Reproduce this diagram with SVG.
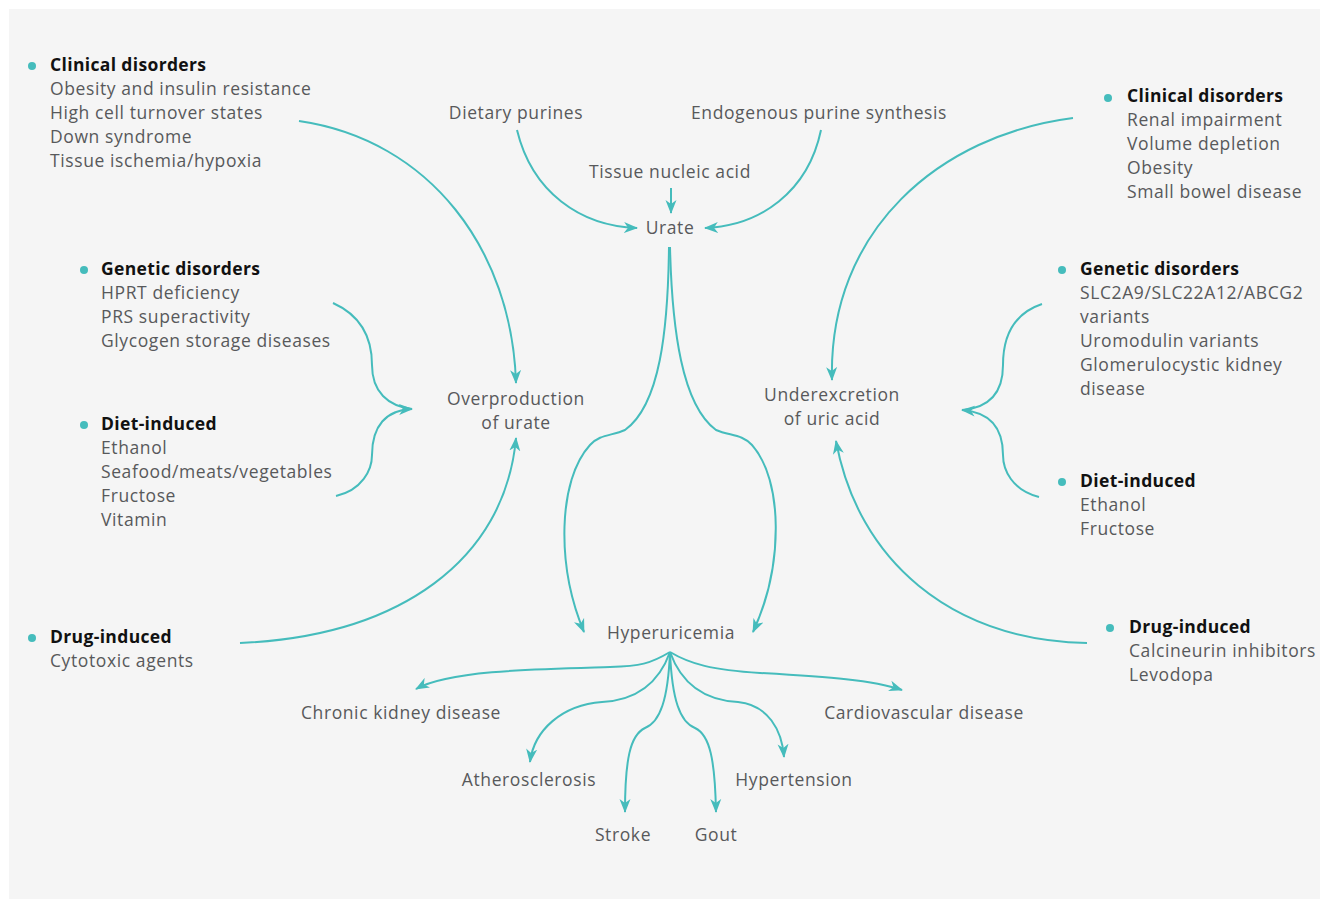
<svg xmlns="http://www.w3.org/2000/svg" width="1320" height="899" viewBox="0 0 1320 899">
  <style>
    .t { font-family: "Open Sans", Lato, "Liberation Sans", sans-serif; font-size: 17.5px; letter-spacing: 0.6px; fill: #58595b; }
    .h { font-family: "Open Sans", Lato, "Liberation Sans", sans-serif; font-size: 17.5px; letter-spacing: 0.35px; font-weight: bold; fill: #111111; }
    .m { text-anchor: middle; }
    .dot { fill: #45bcbc; }
    .c { fill: none; stroke: #45bcbc; stroke-width: 2; marker-end: url(#arr); }
    .n { fill: none; stroke: #45bcbc; stroke-width: 2; }
  </style>
  <defs>
    <marker id="arr" markerUnits="userSpaceOnUse" markerWidth="14" markerHeight="12" viewBox="0 0 14 12" refX="13" refY="6" orient="auto">
      <path d="M0,0.5 L14,6 L0,11.5 L4,6 z" fill="#45bcbc"/>
    </marker>
  </defs>

  <rect x="9" y="9" width="1311" height="890" fill="#f5f5f5"/>

  <!-- connectors -->
  <g id="connectors">
    <path class="c" d="M299,121 C430,140 512,250 516,383"/>
    <path class="n" d="M333,303 C362,316 372,340 372,365 C372,392 388,406 412,409"/>
    <path class="c" d="M336,496 C362,490 372,470 372,455 C372,426 386,410 412,409"/>
    <path class="c" d="M240,643 C400,636 505,560 516,438"/>

    <path class="c" d="M517,130 C532,192 580,226 637,228"/>
    <path class="c" d="M821,130 C808,192 760,226 705,228"/>
    <path class="c" d="M671,188 L671,213"/>

    <path class="c" d="M669,247 C668,330 660,405 625,430 C612,436 600,434 590,445 C558,480 556,565 584,632"/>
    <path class="c" d="M670,247 C672,330 682,405 716,430 C730,436 742,434 752,445 C783,480 784,565 753,632"/>

    <path class="c" d="M1073,118 C940,135 828,230 832,380"/>
    <path class="n" d="M1042,304 C1012,314 1003,338 1003,365 C1003,394 988,408 962,410"/>
    <path class="c" d="M1039,497 C1012,490 1003,470 1003,455 C1003,426 988,412 962,410"/>
    <path class="c" d="M1087,643 C950,640 858,560 836,441"/>

    <path class="c" d="M670,652 C650,664 640,666 610,667 C540,669 450,670 416,689"/>
    <path class="c" d="M670,652 C690,664 712,670 760,673 C830,677 872,680 902,690"/>
    <path class="c" d="M670,652 C660,680 640,700 602,702 C562,705 534,730 530,762"/>
    <path class="c" d="M670,652 C680,680 700,700 738,702 C768,705 782,730 784,757"/>
    <path class="c" d="M670,652 C668,700 660,722 645,728 C630,735 625,760 625,812"/>
    <path class="c" d="M670,652 C672,700 680,722 695,728 C710,735 715,760 716,812"/>
  </g>

  <!-- left column -->
  <g id="left-clinical">
    <circle class="dot" cx="32" cy="66" r="4"/>
    <text class="h" x="50" y="71">Clinical disorders</text>
    <text class="t" x="50" y="95">Obesity and insulin resistance</text>
    <text class="t" x="50" y="119">High cell turnover states</text>
    <text class="t" x="50" y="143">Down syndrome</text>
    <text class="t" x="50" y="167">Tissue ischemia/hypoxia</text>
  </g>
  <g id="left-genetic">
    <circle class="dot" cx="84" cy="270" r="4"/>
    <text class="h" x="101" y="275">Genetic disorders</text>
    <text class="t" x="101" y="299">HPRT deficiency</text>
    <text class="t" x="101" y="323">PRS superactivity</text>
    <text class="t" x="101" y="347">Glycogen storage diseases</text>
  </g>
  <g id="left-diet">
    <circle class="dot" cx="84" cy="425" r="4"/>
    <text class="h" x="101" y="430">Diet-induced</text>
    <text class="t" x="101" y="454">Ethanol</text>
    <text class="t" x="101" y="478">Seafood/meats/vegetables</text>
    <text class="t" x="101" y="502">Fructose</text>
    <text class="t" x="101" y="526">Vitamin</text>
  </g>
  <g id="left-drug">
    <circle class="dot" cx="32" cy="638" r="4"/>
    <text class="h" x="50" y="643">Drug-induced</text>
    <text class="t" x="50" y="667">Cytotoxic agents</text>
  </g>

  <!-- centre -->
  <g id="dietary-purines"><text class="t m" x="516" y="119">Dietary purines</text></g>
  <g id="endogenous-synthesis"><text class="t m" x="819" y="119">Endogenous purine synthesis</text></g>
  <g id="tissue-nucleic-acid"><text class="t m" x="670" y="178">Tissue nucleic acid</text></g>
  <g id="urate"><text class="t m" x="670" y="234">Urate</text></g>
  <g id="overproduction">
    <text class="t m" x="516" y="405">Overproduction</text>
    <text class="t m" x="516" y="429">of urate</text>
  </g>
  <g id="underexcretion">
    <text class="t m" x="832" y="401">Underexcretion</text>
    <text class="t m" x="832" y="425">of uric acid</text>
  </g>
  <g id="hyperuricemia"><text class="t m" x="671" y="639">Hyperuricemia</text></g>
  <g id="ckd"><text class="t m" x="401" y="719">Chronic kidney disease</text></g>
  <g id="cvd"><text class="t m" x="924" y="719">Cardiovascular disease</text></g>
  <g id="atherosclerosis"><text class="t m" x="529" y="786">Atherosclerosis</text></g>
  <g id="hypertension"><text class="t m" x="794" y="786">Hypertension</text></g>
  <g id="stroke"><text class="t m" x="623" y="841">Stroke</text></g>
  <g id="gout"><text class="t m" x="716" y="841">Gout</text></g>

  <!-- right column -->
  <g id="right-clinical">
    <circle class="dot" cx="1108" cy="98" r="4"/>
    <text class="h" x="1127" y="102">Clinical disorders</text>
    <text class="t" x="1127" y="126">Renal impairment</text>
    <text class="t" x="1127" y="150">Volume depletion</text>
    <text class="t" x="1127" y="174">Obesity</text>
    <text class="t" x="1127" y="198">Small bowel disease</text>
  </g>
  <g id="right-genetic">
    <circle class="dot" cx="1062" cy="270" r="4"/>
    <text class="h" x="1080" y="275">Genetic disorders</text>
    <text class="t" x="1080" y="299">SLC2A9/SLC22A12/ABCG2</text>
    <text class="t" x="1080" y="323">variants</text>
    <text class="t" x="1080" y="347">Uromodulin variants</text>
    <text class="t" x="1080" y="371">Glomerulocystic kidney</text>
    <text class="t" x="1080" y="395">disease</text>
  </g>
  <g id="right-diet">
    <circle class="dot" cx="1062" cy="482" r="4"/>
    <text class="h" x="1080" y="487">Diet-induced</text>
    <text class="t" x="1080" y="511">Ethanol</text>
    <text class="t" x="1080" y="535">Fructose</text>
  </g>
  <g id="right-drug">
    <circle class="dot" cx="1110" cy="628" r="4"/>
    <text class="h" x="1129" y="633">Drug-induced</text>
    <text class="t" x="1129" y="657">Calcineurin inhibitors</text>
    <text class="t" x="1129" y="681">Levodopa</text>
  </g>
</svg>
